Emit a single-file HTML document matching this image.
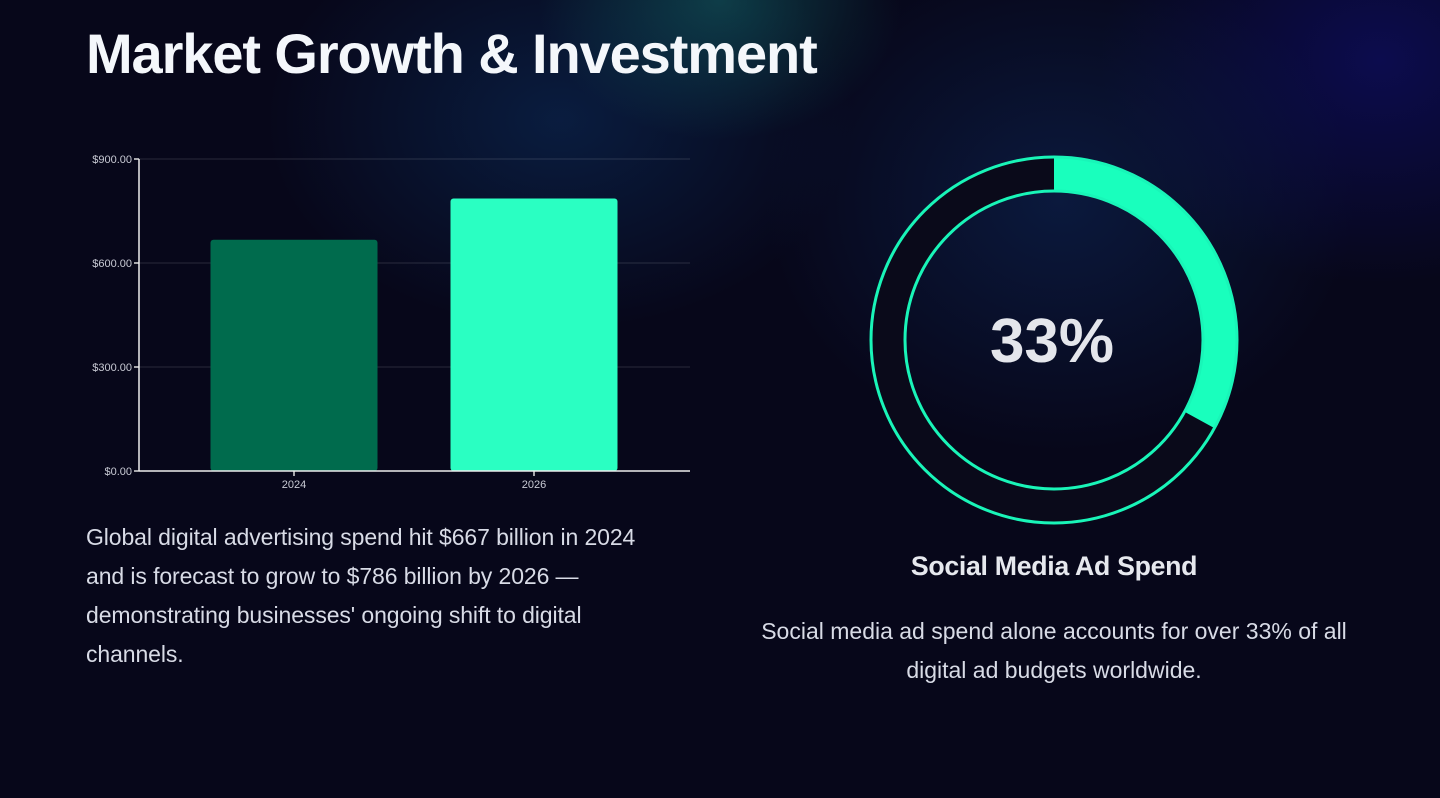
<!DOCTYPE html>
<html><head><meta charset="utf-8"><style>
html,body{margin:0;padding:0}
body{width:1440px;height:798px;overflow:hidden;position:relative;font-family:"Liberation Sans",sans-serif;color:#fff;
background:
radial-gradient(ellipse 260px 200px at 720px 0px, rgba(20,110,110,0.5), transparent 70%),
radial-gradient(ellipse 420px 300px at 560px 120px, rgba(12,50,100,0.5), transparent 70%),
radial-gradient(ellipse 420px 360px at 1060px 200px, rgba(14,40,90,0.55), transparent 70%),
radial-gradient(ellipse 400px 320px at 1380px 60px, rgba(14,14,100,0.7), transparent 70%),
#07071a;}
#title{position:absolute;left:86px;top:21px;font-size:56px;font-weight:bold;letter-spacing:-1.1px;margin:0;color:#f4f7fb}
.p{position:absolute;font-size:23px;line-height:39px;color:#d8dbe6;margin:0}
#sub{position:absolute;left:754px;width:600px;top:551px;text-align:center;font-size:26.7px;font-weight:bold;color:#e6e8ee;letter-spacing:-0.3px}
</style></head><body>
<h1 id="title">Market Growth &amp; Investment</h1>
<svg id="bar" width="1440" height="798" style="position:absolute;left:0;top:0"></svg>
<p class="p" style="left:86px;top:518px;letter-spacing:-0.1px">Global digital advertising spend hit $667 billion in 2024<br>and is forecast to grow to $786 billion by 2026 —<br>demonstrating businesses' ongoing shift to digital<br>channels.</p>
<div id="sub">Social Media Ad Spend</div>
<p class="p" style="left:704px;width:700px;text-align:center;top:612px">Social media ad spend alone accounts for over 33% of all<br>digital ad budgets worldwide.</p>
<script>
const categories=["2024","2026"];
const values=[667,786];
const barColors=["#006b4d","#2affc2"];
const ticks=[0,300,600,900];
const tickLabels=["$0.00","$300.00","$600.00","$900.00"];
const donutValue=[33];
const NS="http://www.w3.org/2000/svg";
const svg=document.getElementById('bar');
function mk(t,a){const e=document.createElementNS(NS,t);for(const k in a)e.setAttribute(k,a[k]);svg.appendChild(e);return e;}
const x0=139,x1=690,y0=471,yTop=159,max=900;
const yS=v=>y0-(v/max)*(y0-yTop);
const bandStart=174,band=240;
const xS=i=>bandStart+band*(i+0.5);
ticks.forEach((t,i)=>{
 if(t>0){const g=mk('line',{x1:x0,x2:x1,y1:yS(t),y2:yS(t),stroke:'rgba(255,255,255,0.14)','stroke-width':1});
 }
 const tk=mk('line',{x1:x0-5,x2:x0,y1:yS(t),y2:yS(t),stroke:'#ddd','stroke-width':1.5});
 
 const l=mk('text',{x:x0-7,y:yS(t)+4,'text-anchor':'end','font-size':11,fill:'#c8cad4','font-family':'Liberation Sans, sans-serif'});
 l.textContent=tickLabels[i];
 
});
values.forEach((v,i)=>{
 const w=167;
 const r=mk('rect',{x:xS(i)-w/2,y:yS(v),width:w,height:y0-yS(v),rx:3,fill:barColors[i]});
 
 const tk=mk('line',{x1:xS(i),x2:xS(i),y1:y0,y2:y0+5,stroke:'#ddd','stroke-width':1.5});
 
 const l=mk('text',{x:xS(i),y:y0+17,'text-anchor':'middle','font-size':11,fill:'#c8cad4','font-family':'Liberation Sans, sans-serif'});
 l.textContent=categories[i];
 
});
const ya=mk('line',{x1:x0,x2:x0,y1:yTop,y2:y0,stroke:'#eee','stroke-width':1.5});

const xa=mk('line',{x1:x0,x2:x1,y1:y0,y2:y0,stroke:'#eee','stroke-width':1.5});

const cx=1054,cy=340,ro=182,ri=150,rm=(ro+ri)/2,sw=ro-ri;
const bg=mk('circle',{cx:cx,cy:cy,r:rm,fill:'none',stroke:'#0a0a1a','stroke-width':sw});

const a=donutValue[0]/100*2*Math.PI;
const ex=cx+rm*Math.sin(a),ey=cy-rm*Math.cos(a);
const arc=mk('path',{d:`M${cx} ${cy-rm} A${rm} ${rm} 0 ${a>Math.PI?1:0} 1 ${ex} ${ey}`,fill:'none',stroke:'#19ffbd','stroke-width':sw});

const oc=mk('circle',{cx:cx,cy:cy,r:ro+1,fill:'none',stroke:'#19f5b8','stroke-width':3});

const ic=mk('circle',{cx:cx,cy:cy,r:ri-1,fill:'none',stroke:'#19f5b8','stroke-width':3});

const lbl=mk('text',{x:cx-2,y:cy+22,'text-anchor':'middle','font-size':62,'font-weight':'bold',fill:'#e4e6ec','font-family':'Liberation Sans, sans-serif'});
lbl.textContent=donutValue[0]+'%';

</script>
</body></html>
